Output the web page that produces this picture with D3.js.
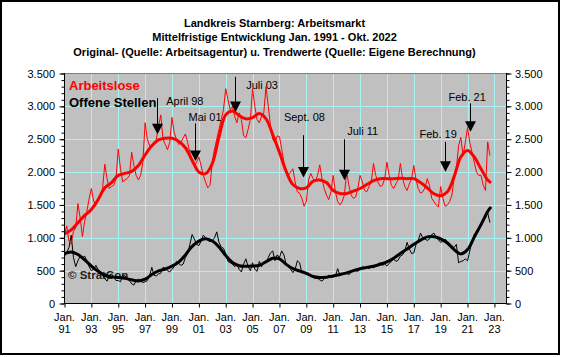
<!DOCTYPE html>
<html><head><meta charset="utf-8">
<script src="https://cdn.jsdelivr.net/npm/d3@7"></script>
<style>
body{margin:0;background:#fff}
svg{display:block}
text{font-family:"Liberation Sans",Arial,sans-serif}
</style>
</head><body><svg id="c" width="562" height="357"></svg>
<script>
// ---------------- DATA ----------------
const titleLines = [
  "Landkreis Starnberg: Arbeitsmarkt",
  "Mittelfristige Entwicklung Jan. 1991 - Okt. 2022",
  "Original- (Quelle: Arbeitsagentur) u. Trendwerte (Quelle: Eigene Berechnung)"
];
const seriesNames = ["Arbeitslose", "Offene Stellen"];
const copyrightText = "\u00A9 StratCon";
const xTickYears = [1991,1993,1995,1997,1999,2001,2003,2005,2007,2009,2011,2013,2015,2017,2019,2021,2023];
const xTickLabels = ["91","93","95","97","99","01","03","05","07","09","11","13","15","17","19","21","23"];
const xTickMonth = "Jan.";
const yTickValues = [0,500,1000,1500,2000,2500,3000,3500];

// raw values, every two months (Jan, Mar, May, Jul, Sep, Nov) from Jan 1991
const unemployedRaw = [
  1050,1180,950,900,1100,1150,
  1520,1300,1020,1250,1400,1600,
  1750,1560,1500,1600,1650,1750,
  2120,1900,1750,1780,1800,1900,
  2350,2050,1850,1880,1900,1950,
  2300,2100,1950,1880,1950,2150,
  2750,2500,2400,2380,2420,2500,
  2700,2870,2500,2420,2340,2450,
  2830,2600,2500,2420,2450,2520,
  2580,2450,2300,2150,2100,2150,
  2230,2100,1950,1850,1760,1800,
  2150,2350,2500,2650,2800,2950,
  3270,3100,2950,3000,2850,2750,
  2900,2800,2550,2520,2650,2800,
  3270,3000,2800,2750,2850,2900,
  3300,3000,2700,2500,2450,2550,
  2540,2350,2150,2000,1950,2000,
  2050,1850,1700,1680,1600,1480,
  1550,1880,1980,1900,1850,1950,
  2110,1900,1750,1650,1580,1700,
  1950,1700,1550,1500,1550,1650,
  2000,1800,1650,1600,1620,1750,
  1950,1850,1720,1700,1780,1850,
  2130,1950,1850,1780,1800,1900,
  2150,1950,1800,1750,1820,1880,
  2130,1900,1780,1720,1820,1900,
  2100,1880,1750,1680,1700,1760,
  1900,1800,1600,1550,1500,1470,
  1780,1600,1480,1500,1550,1650,
  1900,2050,2400,2530,2250,2450,
  2680,2450,2300,2150,2000,1950,
  1950,1800,1720,2460,2250
];
const vacanciesRaw = [
  720,780,850,1040,700,560,
  650,720,700,720,650,560,
  500,520,580,520,480,430,
  380,340,430,450,400,350,
  350,330,430,420,370,350,
  300,280,350,370,340,320,
  330,350,420,550,430,420,
  450,460,550,530,500,480,
  520,560,640,610,580,600,
  700,760,900,1050,980,900,
  880,950,1040,1000,960,940,
  960,1000,1090,930,860,840,
  760,640,620,600,560,600,
  520,480,600,680,560,500,
  620,520,490,640,560,620,
  620,700,770,800,650,740,
  700,800,740,600,560,520,
  470,520,650,620,470,470,
  440,460,430,400,380,380,
  360,340,380,400,430,400,
  400,420,530,430,440,450,
  460,440,470,510,500,490,
  520,560,540,560,530,560,
  540,580,600,620,580,600,
  570,610,640,680,640,660,
  720,740,800,930,830,760,
  770,900,960,1070,1000,980,
  960,980,1050,1070,1000,970,
  930,950,980,940,900,880,
  850,900,620,640,650,680,
  650,800,950,1050,1100,1150,
  1180,1250,1300,1380,1230
];
// trend values, every half year (Jan, Jul) from Jan 1991, last value Oct 2022
const unemployedTrend = [
  1060,1120, 1230,1340, 1430,1580, 1760,1840, 1950,1980, 2010,2100, 2260,2400, 2490,2515,
  2515,2470, 2370,2180, 2000,1975, 2130,2535, 2870,2930, 2860,2810, 2830,2890, 2810,2570,
  2300,2010, 1810,1750, 1760,1860, 1880,1840, 1720,1675, 1675,1710, 1750,1810, 1870,1900,
  1900,1900, 1905,1900, 1900,1840, 1760,1670, 1640,1700, 1930,2230, 2330,2230, 2050,1880,
  1840
];
const vacanciesTrend = [
  760,785, 745,665, 570,490, 430,405, 395,385, 360,344, 370,440, 495,525,
  568,630, 740,870, 950,985, 950,860, 730,625, 575,568, 570,580, 635,690,
  680,595, 530,495, 460,410, 395,400, 420,440, 466,500, 530,550, 568,598,
  635,690, 761,830, 900,965, 1014,1015, 985,920, 820,755, 820,1010, 1200,1400,
  1470
];
const trendLastDate = 2022.75;

// annotations (arrows)
const annLabels = ["April 98","Mai 01","Juli 03","Sept. 08","Juli 11","Feb. 19","Feb. 21"];
const annDates  = [1997.9, 2000.7, 2003.7, 2008.75, 2011.8, 2019.3, 2021.2];
const annTip    = [2577, 2170, 2916, 1918, 1876, 2003, 2612];
const annTop    = [3125, 2740, 3450, 2561, 2500, 2460, 3044];

// ---------------- LAYOUT ----------------
const annDx = [8.7, -7, 10.7, -19.6, 2.7, -26, -22];
const annDy = [3, -6.3, 7.8, -18, -8.5, -8.2, -6.3];
const C_RED = "#ff0000", C_BLACK = "#000000", C_GRID = "#a8f4f4", C_BG = "#c0c0c0";

const svg = d3.select("#c");
const x = d3.scaleLinear().domain([1991, 2023.9]).range([64.5, 506.5]);
const y = d3.scaleLinear().domain([0, 3500]).range([303.5, 73.5]);
const fmt = d3.formatLocale({decimal: ",", thousands: ".", grouping: [3], currency: ["", ""]}).format(",d");

// outer frame
svg.append("rect").attr("x",1).attr("y",1).attr("width",558).attr("height",353)
  .attr("fill","#fff").attr("stroke","#000").attr("stroke-width",2);

// title
svg.append("g").selectAll("text").data(titleLines).join("text")
  .attr("x", 274.5).attr("y", (d,i) => 26.5 + i*14.8)
  .attr("text-anchor","middle").attr("font-size","11px").attr("font-weight","bold")
  .text(d => d);

// plot background
const [x0, x1] = x.range(), [y0, y1] = y.range();
svg.append("rect").attr("x", x0).attr("y", y1).attr("width", x1-x0).attr("height", y0-y1).attr("fill", C_BG);

// grid
const grid = svg.append("g").attr("stroke", C_GRID).attr("stroke-width",1);
grid.selectAll(".gv").data(xTickYears.filter(v => v > 1991)).join("line")
  .attr("x1", d => Math.round(x(d))+0.5).attr("x2", d => Math.round(x(d))+0.5)
  .attr("y1", y1).attr("y2", y0);
grid.selectAll(".gh").data(yTickValues.filter(v => v > 0 && v < 3500)).join("line")
  .attr("x1", x0).attr("x2", x1)
  .attr("y1", d => Math.round(y(d))+0.5).attr("y2", d => Math.round(y(d))+0.5);

// top border
svg.append("line").attr("x1",x0).attr("x2",x1).attr("y1",y1).attr("y2",y1).attr("stroke","#808080");

// copyright
svg.append("text").attr("x", 68).attr("y", 278.5).attr("font-size","11.5px").attr("font-weight","bold")
  .attr("fill","#222").text(copyrightText);

// clip
svg.append("clipPath").attr("id","clip").append("rect").attr("x",x0).attr("y",y1).attr("width",x1-x0).attr("height",y0-y1);
const plot = svg.append("g").attr("clip-path","url(#clip)");

const rawDate = i => 1991 + i/6;
const trendDate = (i, arr) => i === arr.length-1 ? trendLastDate : 1991 + i/2;

const rawLine = d3.line().x((d,i) => x(rawDate(i))).y(d => y(d));
const trendLine = arr => d3.line().curve(d3.curveCatmullRom.alpha(0.5))
  .x((d,i) => x(trendDate(i, arr))).y(d => y(d))(arr);

plot.append("path").attr("d", rawLine(vacanciesRaw)).attr("fill","none").attr("stroke",C_BLACK).attr("stroke-width",1);
plot.append("path").attr("d", trendLine(vacanciesTrend)).attr("fill","none").attr("stroke",C_BLACK).attr("stroke-width",3);
plot.append("path").attr("d", rawLine(unemployedRaw)).attr("fill","none").attr("stroke",C_RED).attr("stroke-width",1);
plot.append("path").attr("d", trendLine(unemployedTrend)).attr("fill","none").attr("stroke",C_RED).attr("stroke-width",3);

// axes
const minorVals = d3.range(0, 3501, 100);
const axL = svg.append("g").attr("transform", `translate(${x0},0)`);
axL.call(d3.axisLeft(y).tickValues(minorVals).tickSize(3).tickFormat(""));
axL.call(g => g.append("g").call(d3.axisLeft(y).tickValues(yTickValues).tickSize(5).tickFormat("")));
axL.selectAll(".domain").remove();
axL.selectAll("line").attr("stroke","#000");
axL.append("line").attr("y1",y1-0.5).attr("y2",y0+0.5).attr("stroke","#000");
svg.append("g").selectAll("text").data(yTickValues).join("text")
  .attr("x", 55).attr("y", d => y(d)+4).attr("text-anchor","end").attr("font-size","11px")
  .text(d => fmt(d));

const axR = svg.append("g").attr("transform", `translate(${x1},0)`);
axR.call(d3.axisRight(y).tickValues(minorVals).tickSize(3).tickFormat(""));
axR.call(g => g.append("g").call(d3.axisRight(y).tickValues(yTickValues).tickSize(5).tickFormat("")));
axR.selectAll(".domain").remove();
axR.selectAll("line").attr("stroke","#000");
axR.append("line").attr("y1",y1-0.5).attr("y2",y0+0.5).attr("stroke","#000");
svg.append("g").selectAll("text").data(yTickValues).join("text")
  .attr("x", 515).attr("y", d => y(d)+4).attr("text-anchor","start").attr("font-size","11px")
  .text(d => fmt(d));

const axB = svg.append("g").attr("transform", `translate(0,${y0})`);
axB.call(d3.axisBottom(x).tickValues(xTickYears).tickSize(4).tickFormat(""));
axB.selectAll(".domain").remove();
axB.selectAll("line").attr("stroke","#000");
axB.append("line").attr("x1",x0).attr("x2",x1+0.5).attr("stroke","#000");
const xl = svg.append("g").selectAll("g").data(xTickYears).join("g")
  .attr("transform", d => `translate(${x(d)},0)`);
xl.append("text").attr("y", 321).attr("text-anchor","middle").attr("font-size","11px").text(xTickMonth);
xl.append("text").attr("y", 332.5).attr("text-anchor","middle").attr("font-size","11px").text((d,i) => xTickLabels[i]);

// legend
svg.append("text").attr("x",69).attr("y",89.5).attr("font-size","13px").attr("font-weight","bold")
  .attr("fill",C_RED).text(seriesNames[0]);
svg.append("text").attr("x",69).attr("y",106.5).attr("font-size","13px").attr("font-weight","bold")
  .attr("fill",C_BLACK).text(seriesNames[1]);

// annotations
const ann = svg.append("g");
annLabels.forEach((lab, i) => {
  const ax = Math.round(x(annDates[i])) + 0.5;
  const yt = y(annTip[i]), ytop = y(annTop[i]);
  ann.append("line").attr("x1",ax).attr("x2",ax).attr("y1",ytop).attr("y2",yt-8).attr("stroke","#000");
  ann.append("path").attr("d", `M${ax-5.5},${yt-10.5}L${ax+5.5},${yt-10.5}L${ax},${yt}Z`).attr("fill","#000");
  ann.append("text").attr("x", ax + annDx[i]).attr("y", ytop + annDy[i] + 4)
    .attr("font-size","11px").attr("fill","#000").text(lab);
});
</script>
</body></html>
